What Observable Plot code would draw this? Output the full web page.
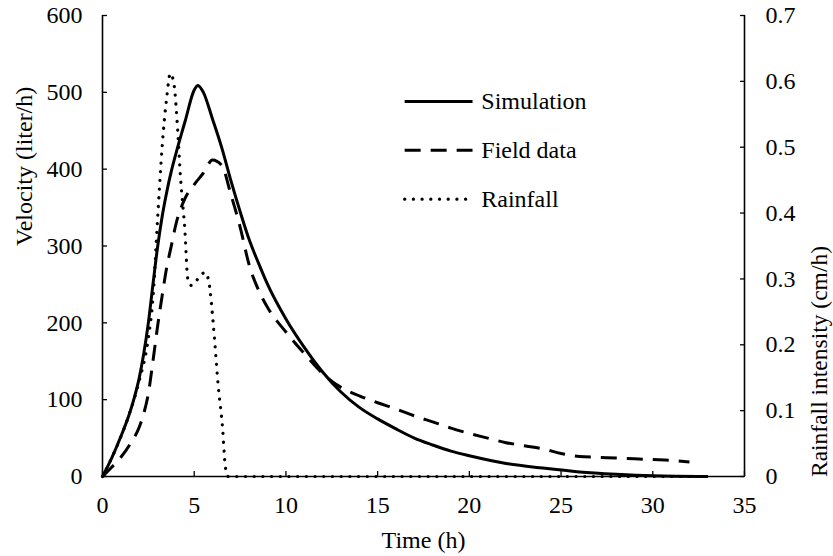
<!DOCTYPE html>
<html>
<head>
<meta charset="utf-8">
<script src="https://cdn.jsdelivr.net/npm/d3@7"></script>
<script src="https://cdn.jsdelivr.net/npm/@observablehq/plot@0.6"></script>
<style>
  html, body { margin: 0; padding: 0; background: #fff; }
  #chart svg { display: block; }
  #chart svg, #chart svg text { font-family: "Liberation Serif", "Times New Roman", Times, serif !important; }
</style>
</head>
<body>
<div id="chart"></div>
<script>
// ---- data ----
const simTime = [0, 0.5, 1, 1.5, 1.75, 2, 2.25, 2.5, 2.75, 3, 3.25, 3.5, 3.75, 4, 4.5, 5, 5.2, 5.5, 6, 6.5, 7, 7.5, 8, 8.5, 9, 10, 11, 12, 13, 14, 15, 16, 17, 18, 19, 20, 22, 24, 26, 28, 30, 33];
const simulation = [0, 24, 52, 84, 104, 128, 160, 200, 250, 298, 338, 370, 397, 420, 462, 503, 509, 500, 465, 428, 385, 345, 308, 278, 250, 205, 168, 136, 110, 90, 75, 62, 50, 41, 33, 27, 17, 11, 6, 3, 1, 0];

const fieldTime = [0, 0.5, 1, 1.5, 2, 2.25, 2.5, 2.75, 3, 3.25, 3.5, 3.75, 4, 4.5, 5, 5.5, 6, 6.5, 7, 7.5, 8, 8.5, 9, 10, 11, 12, 13, 14, 15, 16, 17, 18, 19, 20, 21, 22, 23, 24, 25, 26, 27, 28, 29, 30, 31, 32];
const fieldData = [0, 12, 25, 42, 64, 82, 108, 150, 195, 235, 272, 300, 328, 362, 380, 395, 412, 405, 367, 325, 275, 243, 220, 188, 160, 134, 116, 105, 96, 88, 79, 71, 63, 56, 50, 44, 40, 36, 30, 26, 25, 24, 23, 22, 21, 19];

const rainTime = [0, 0.5, 1, 1.5, 2, 2.5, 2.75, 3, 3.25, 3.5, 3.7, 3.9, 4.1, 4.25, 4.5, 4.65, 4.85, 5.2, 5.6, 5.8, 6.05, 6.3, 6.55, 6.7, 6.85, 10, 15, 20, 25, 30, 33];
const rainfall = [0, 0.028, 0.06, 0.098, 0.145, 0.21, 0.27, 0.39, 0.5, 0.575, 0.612, 0.595, 0.525, 0.455, 0.37, 0.3, 0.29, 0.3, 0.31, 0.295, 0.228, 0.14, 0.072, 0.014, 0, 0, 0, 0, 0, 0, 0];

const xTicks = [0, 5, 10, 15, 20, 25, 30, 35];
const velTicks = [0, 100, 200, 300, 400, 500, 600];
const rainTicks = [0, 0.1, 0.2, 0.3, 0.4, 0.5, 0.6, 0.7];
const seriesNames = ["Simulation", "Field data", "Rainfall"];

// ---- build ----
const VMAX = 600, RMAX = 0.7;
const toVel = r => r * VMAX / RMAX;
const sim = simTime.map((t, i) => ({t, v: simulation[i]}));
const field = fieldTime.map((t, i) => ({t, v: fieldData[i]}));
const rain = rainTime.map((t, i) => ({t, v: toVel(rainfall[i])}));

const FONT = "'Liberation Serif', 'Times New Roman', Times, serif";
const FS = 24;
const styles = {
  Simulation: {strokeWidth: 3, strokeDasharray: null, strokeLinecap: "butt"},
  "Field data": {strokeWidth: 3, strokeDasharray: "16 10", strokeLinecap: "butt"},
  Rainfall: {strokeWidth: 3.2, strokeDasharray: "0.1 8.6", strokeLinecap: "round"}
};

// legend rows placed in data space
const legend = seriesNames.map((name, i) => ({
  name,
  x1: 16.5, x2: 20.2, xt: 20.65,
  y: 488 - i * 63.5
}));

const chart = Plot.plot({
  width: 833,
  height: 556,
  marginLeft: 102,
  marginRight: 89,
  marginTop: 15,
  marginBottom: 80,
  style: {fontFamily: FONT, fontSize: FS + "px", color: "#000", background: "#fff"},
  x: {domain: [0, 35]},
  y: {domain: [0, 600]},
  marks: [
    // axis lines
    Plot.ruleX([0], {stroke: "#000", strokeWidth: 1.6}),
    Plot.ruleX([35], {stroke: "#000", strokeWidth: 1.6}),
    Plot.ruleY([0], {stroke: "#000", strokeWidth: 1.6}),
    // axes
    Plot.axisX(xTicks, {anchor: "bottom", tickSize: -5, tickPadding: 24, strokeWidth: 1.3, label: null, fontSize: FS, fontFamily: FONT}),
    Plot.axisY(velTicks, {anchor: "left", tickSize: -5, tickPadding: 25, strokeWidth: 1.3, label: null, fontSize: FS, fontFamily: FONT}),
    Plot.axisY(rainTicks.map(toVel), {anchor: "right", tickSize: -5, tickPadding: 26, strokeWidth: 1.3, label: null, fontSize: FS, fontFamily: FONT,
      tickFormat: d => { const r = Math.round(d * RMAX / VMAX * 10) / 10; return r === 0 ? "0" : r.toFixed(1); }}),
    // axis titles
    Plot.text(["Time (h)"], {frameAnchor: "bottom", dy: 64, text: d => d, fontSize: FS, fontFamily: FONT, lineAnchor: "middle", fill: "#000"}),
    Plot.text(["Velocity (liter/h)"], {frameAnchor: "left", dx: -78, rotate: -90, text: d => d, fontSize: FS, fontFamily: FONT, lineAnchor: "middle", fill: "#000"}),
    Plot.text(["Rainfall intensity (cm/h)"], {frameAnchor: "right", dx: 75, rotate: -90, text: d => d, fontSize: 23.5, fontFamily: FONT, lineAnchor: "middle", fill: "#000"}),
    // series
    Plot.line(rain, {x: "t", y: "v", stroke: "#000", curve: "monotone-x", ...styles.Rainfall}),
    Plot.line(field, {x: "t", y: "v", stroke: "#000", curve: "monotone-x", ...styles["Field data"]}),
    Plot.line(sim, {x: "t", y: "v", stroke: "#000", curve: "monotone-x", ...styles.Simulation}),
    // legend
    ...legend.map(d => Plot.ruleY([d], {x1: "x1", x2: "x2", y: "y", stroke: "#000", ...styles[d.name]})),
    Plot.text(legend, {x: "xt", y: "y", text: "name", textAnchor: "start", fontSize: FS, fontFamily: FONT, fill: "#000"})
  ]
});
document.getElementById("chart").appendChild(chart);
</script>
</body>
</html>
